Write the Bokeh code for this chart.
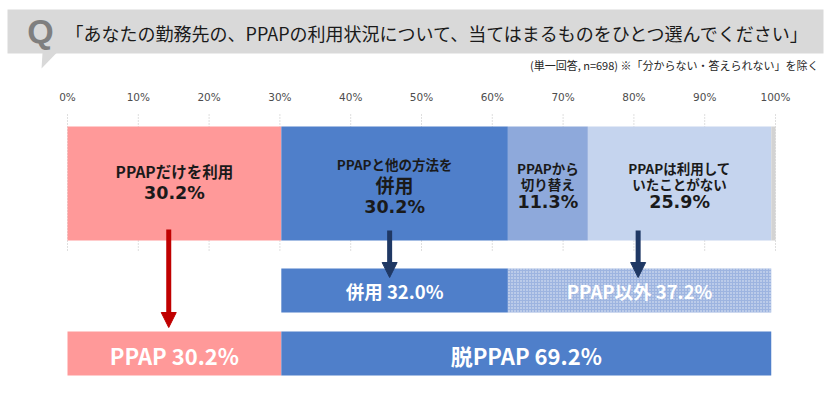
import numpy as np
from bokeh.plotting import figure
from bokeh.models import Range1d, Arrow, NormalHead
from bokeh.core.properties import value
from bokeh.embed import file_html
from bokeh.resources import INLINE

# ---------------- data ----------------
title_text = "「あなたの勤務先の、PPAPの利用状況について、当てはまるものをひとつ選んでください」"
note_text = "(単一回答, n=698) ※「分からない・答えられない」を除く"

tick_values = [0, 10, 20, 30, 40, 50, 60, 70, 80, 90, 100]
tick_labels = ["0%", "10%", "20%", "30%", "40%", "50%", "60%", "70%", "80%", "90%", "100%"]

top_label_lines = [["PPAPだけを利用"], ["PPAPと他の方法を", "併用"],
                   ["PPAPから", "切り替え"], ["PPAPは利用して", "いたことがない"]]
top_values = [30.2, 32.0, 11.3, 25.9]
top_value_labels = ["30.2%", "30.2%", "11.3%", "25.9%"]

mid_labels = ["併用 32.0%", "PPAP以外 37.2%"]
mid_values = [32.0, 37.2]

bottom_labels = ["PPAP 30.2%", "脱PPAP 69.2%"]
bottom_values = [30.2, 69.2]

arrow_x = [14.3, 45.5, 80.6]

# ---------------- styles / layout ----------------
PINK = "#FF9999"
BLUE = "#4F7FCA"
MIDBLUE = "#8EA9DB"
LIGHTBLUE = "#C5D4EE"
SLIVER = "#D3D3D3"
HATCHFILL = "#9DB4E0"
TEXT = "#1A1A1A"
JP = value("Noto Sans CJK JP")
LAT = value("DejaVu Sans")

ROW_TOP = (126, 240)
ROW_MID = (268, 312)
ROW_BOT = (331, 375)

# label line layout per top segment: (y list, size list, pct y)
top_line_y = [[170], [163, 184], [167, 183], [167, 183]]
top_line_size = [["15.5px"], ["13.5px", "19px"], ["13.5px", "13.5px"], ["13.5px", "13.5px"]]
top_pct_y = [192, 206, 201, 201]

p = figure(width=834, height=396, x_range=Range1d(-9.463, 108.334),
           y_range=Range1d(396, 0), output_backend="svg", toolbar_location=None,
           min_border=0, background_fill_color="white", border_fill_color="white")
p.extra_x_ranges = {"px": Range1d(0, 834)}
p.axis.visible = False
p.grid.visible = False
p.outline_line_color = None

# ---------------- header ----------------
p.quad(left=[7], right=[823], top=[9], bottom=[53], fill_color="#D9D9D9",
       line_color=None, x_range_name="px")
p.patch(x=[42, 56, 41], y=[52.5, 52.5, 68], fill_color="#D9D9D9", line_color=None,
        x_range_name="px")
p.text(x=[40], y=[30], text=["Q"], text_font=value("Liberation Sans"), text_font_style="bold",
       text_font_size="34px", text_color="#7F7F7F", text_align="center",
       text_baseline="middle", x_range_name="px")
p.text(x=[65], y=[32], text=[title_text], text_font=JP, text_font_size="18px",
       text_color=TEXT, text_align="left", text_baseline="middle", x_range_name="px")
p.text(x=[818], y=[64], text=[note_text], text_font=JP, text_font_size="11px",
       text_color="#262626", text_align="right", text_baseline="middle", x_range_name="px")

# ---------------- ticks & grid ----------------
p.text(x=tick_values, y=[96] * len(tick_values), text=tick_labels, text_font=LAT,
       text_font_size="10.5px", text_color="#4D4D4D", text_align="center",
       text_baseline="middle")
p.segment(x0=tick_values, x1=tick_values, y0=[114] * len(tick_values),
          y1=[251] * len(tick_values), line_color="#BFBFBF", line_width=1, line_dash="1 2")

# ---------------- top bar ----------------
tv = np.array(top_values)
t_right = np.cumsum(tv)
t_left = t_right - tv
p.quad(left=t_left, right=t_right, top=[ROW_TOP[0]] * 4, bottom=[ROW_TOP[1]] * 4,
       fill_color=[PINK, BLUE, MIDBLUE, LIGHTBLUE], line_color=None)
p.quad(left=[t_right[-1]], right=[100], top=[ROW_TOP[0]], bottom=[ROW_TOP[1]],
       fill_color=SLIVER, line_color=None)
t_center = (t_left + t_right) / 2
for i in range(4):
    for line, yy, sz in zip(top_label_lines[i], top_line_y[i], top_line_size[i]):
        p.text(x=[t_center[i]], y=[yy], text=[line], text_font=JP, text_font_style="bold",
               text_font_size=sz, text_color=TEXT, text_align="center",
               text_baseline="middle")
    p.text(x=[t_center[i]], y=[top_pct_y[i]], text=[top_value_labels[i]], text_font=LAT,
           text_font_style="bold", text_font_size="17.5px", text_color=TEXT,
           text_align="center", text_baseline="middle")

# ---------------- middle bar ----------------
mv = np.array(mid_values)
m_right = top_values[0] + np.cumsum(mv)
m_left = m_right - mv
p.quad(left=[m_left[0]], right=[m_right[0]], top=[ROW_MID[0]], bottom=[ROW_MID[1]],
       fill_color=BLUE, line_color=None)
p.quad(left=[m_left[1]], right=[m_right[1]], top=[ROW_MID[0]], bottom=[ROW_MID[1]],
       fill_color=HATCHFILL, line_color=None, hatch_pattern="dot", hatch_color="white",
       hatch_scale=3, hatch_weight=1, hatch_alpha=0.75)
p.text(x=(m_left + m_right) / 2, y=[(ROW_MID[0] + ROW_MID[1]) / 2] * 2, text=mid_labels,
       text_font=JP, text_font_style="bold", text_font_size="18.5px", text_color="white",
       text_align="center", text_baseline="middle")

# ---------------- bottom bar ----------------
bv = np.array(bottom_values)
b_right = np.cumsum(bv)
b_left = b_right - bv
p.quad(left=b_left, right=b_right, top=[ROW_BOT[0]] * 2, bottom=[ROW_BOT[1]] * 2,
       fill_color=[PINK, BLUE], line_color=None)
p.text(x=(b_left + b_right) / 2, y=[(ROW_BOT[0] + ROW_BOT[1]) / 2 + 1] * 2, text=bottom_labels,
       text_font=JP, text_font_style="bold", text_font_size="22px", text_color="white",
       text_align="center", text_baseline="middle")

# ---------------- arrows ----------------
arrow_colors = ["#C00000", "#1F3864", "#1F3864"]
arrow_y0 = [229, 230, 230]
arrow_y1 = [327, 277, 277]
for ax, c, y0, y1 in zip(arrow_x, arrow_colors, arrow_y0, arrow_y1):
    p.add_layout(Arrow(end=NormalHead(size=15, fill_color=c, line_color=c),
                       x_start=ax, y_start=y0, x_end=ax, y_end=y1,
                       line_color=c, line_width=5))

open("out.html", "w").write(file_html(p, INLINE))
